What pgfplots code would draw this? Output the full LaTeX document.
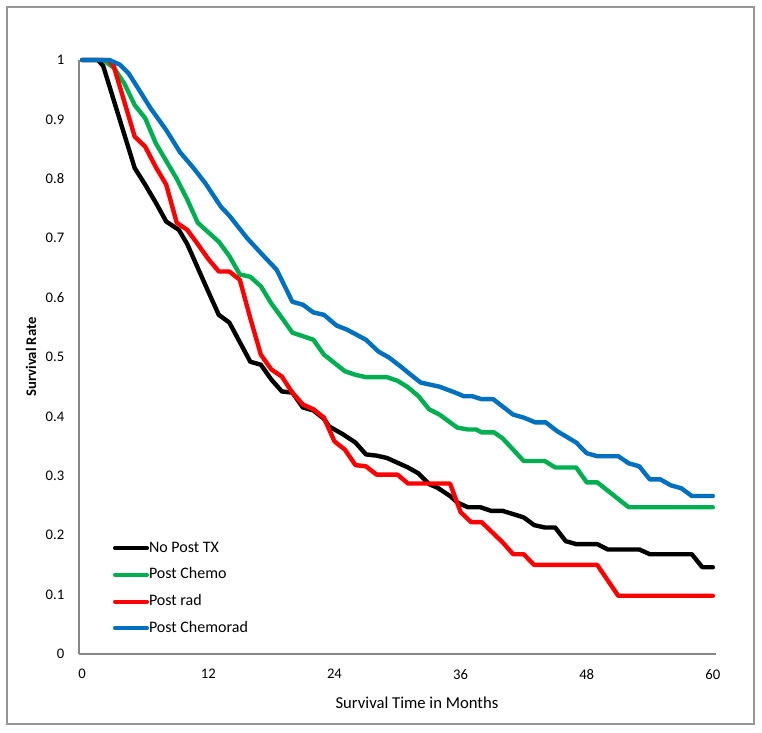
\documentclass[border=0pt]{standalone}
\usepackage{fontspec}
\setmainfont{Carlito}
\usepackage{pgfplots}
\pgfplotsset{compat=1.18}
\definecolor{cgreen}{RGB}{0,176,80}
\definecolor{cblue}{RGB}{0,112,192}
\definecolor{cred}{RGB}{255,0,0}
\definecolor{axgray}{RGB}{134,134,134}
\definecolor{framegray}{RGB}{150,150,150}
\begin{document}
\begin{tikzpicture}[x=1pt,y=1pt]
\useasboundingbox (0,0) rectangle (571.5,549);
\draw[framegray, line width=0.8pt] (5.25,6) rectangle (565.5,543.75);
\begin{axis}[
  at={(59.25pt,58.5pt)}, anchor=south west,
  scale only axis, width=477.75pt, height=445.5pt,
  xmin=-0.3, xmax=60.3, ymin=0, ymax=1,
  axis x line*=bottom, axis y line*=left,
  axis line style={axgray, line width=0.9pt},
  clip=false,
  xtick={0,12,24,36,48,60},
  ytick={0,0.1,0.2,0.3,0.4,0.5,0.6,0.7,0.8,0.9,1},
  yticklabels={0,0.1,0.2,0.3,0.4,0.5,0.6,0.7,0.8,0.9,1},
  major tick length=0pt,
  /pgf/number format/assume math mode=true,
  tick label style={font=\fontsize{11}{13}\selectfont, text=black},
  xticklabel style={yshift=-8pt},
  yticklabel style={xshift=-7.5pt},
  xlabel={Survival Time in Months},
  ylabel={\textbf{Survival Rate}},
  xlabel style={at={(axis description cs:0.5,0)}, anchor=center, yshift=-36.75pt, xshift=14.6pt, font=\fontsize{12.5}{14}\selectfont},
  ylabel style={at={(axis description cs:0,0.5)}, anchor=center, yshift=36pt, font=\fontsize{11}{13}\selectfont},
  every axis plot/.append style={line width=3.3pt, line cap=round, line join=round},
  legend style={at={(axis description cs:0.053,0.201)}, anchor=north west, draw=none, fill=none,
    font=\fontsize{12}{14}\selectfont, inner sep=0pt, row sep=0pt,
    nodes={inner sep=0pt, text height=13pt, text depth=7pt}},
  legend cell align=left,
  legend image code/.code={\draw[#1, line width=3pt] (0pt,0pt) -- (24pt,0pt);},
]
\addplot[black] coordinates {
(0,1)(1.5,1)(2,0.99)(5,0.818)(6,0.79)(7,0.76)(8,0.728)(9.2,0.714)(10,0.69)(11,0.65)(12,0.61)(13,0.571)(14,0.558)(15,0.525)(16,0.492)(17,0.487)(18,0.462)(19,0.442)(20,0.44)(21,0.415)(22,0.41)(23,0.396)(23.5,0.383)(24.8,0.37)(26,0.356)(27,0.336)(28,0.334)(29,0.33)(30,0.322)(31,0.314)(32,0.304)(33,0.286)(33.8,0.28)(35,0.266)(35.7,0.255)(36.7,0.247)(37.9,0.247)(38.9,0.241)(40,0.241)(42,0.23)(43,0.217)(44,0.213)(45,0.213)(46,0.19)(47,0.185)(49,0.185)(50,0.176)(53,0.176)(54,0.168)(58,0.168)(59,0.146)(60,0.146)
};
\addlegendentry{No Post TX}
\addplot[cgreen] coordinates {
(0,1)(2,1)(3,0.987)(4,0.961)(5,0.924)(6,0.902)(7,0.86)(8,0.83)(9,0.8)(10,0.765)(11,0.726)(12,0.71)(13,0.694)(14,0.67)(15,0.639)(16,0.635)(17,0.619)(18,0.59)(19,0.566)(20,0.541)(21,0.535)(22,0.529)(23,0.504)(24,0.49)(25,0.476)(26,0.47)(27,0.466)(29,0.466)(30,0.46)(31,0.449)(32,0.434)(33,0.412)(34,0.403)(35,0.39)(35.7,0.381)(36.7,0.378)(37.5,0.378)(38,0.373)(39.2,0.373)(40,0.363)(42,0.325)(44,0.325)(45,0.314)(47,0.314)(48,0.289)(49,0.289)(52,0.247)(60,0.247)
};
\addlegendentry{Post Chemo}
\addplot[cred] coordinates {
(0,1)(2.5,1)(3,0.99)(5,0.871)(6,0.854)(7,0.82)(8,0.79)(9,0.726)(10,0.714)(11,0.69)(12,0.665)(13,0.644)(14,0.644)(15,0.63)(16,0.565)(17,0.504)(18,0.479)(19,0.467)(20,0.44)(21,0.42)(22,0.412)(23,0.398)(24,0.358)(25,0.344)(26,0.318)(27,0.316)(28,0.302)(30,0.302)(31,0.287)(35,0.287)(36,0.239)(37,0.222)(38,0.222)(40,0.188)(41,0.168)(42,0.168)(43,0.15)(49,0.15)(51,0.098)(60,0.098)
};
\addlegendentry{Post rad}
\addplot[cblue] coordinates {
(0,1)(2.6,1)(3.6,0.992)(4.4,0.978)(5.3,0.953)(6.5,0.919)(8,0.882)(9.3,0.845)(10.6,0.818)(11.7,0.793)(13.2,0.753)(14,0.738)(15.7,0.7)(17,0.675)(18.5,0.647)(20,0.593)(21,0.588)(22,0.575)(23,0.571)(24.2,0.553)(25.2,0.546)(27,0.529)(28.2,0.509)(29.2,0.499)(30.3,0.484)(31.2,0.471)(32.2,0.457)(34,0.45)(35.5,0.44)(36.3,0.434)(37.1,0.434)(38,0.429)(39.1,0.429)(41,0.403)(42,0.398)(43.1,0.39)(44.1,0.39)(45.2,0.375)(47,0.356)(48,0.338)(49,0.333)(51,0.333)(52,0.321)(53,0.316)(54,0.294)(55,0.294)(56,0.284)(57,0.279)(58,0.266)(60,0.266)
};
\addlegendentry{Post Chemorad}
\end{axis}
\end{tikzpicture}
\end{document}
